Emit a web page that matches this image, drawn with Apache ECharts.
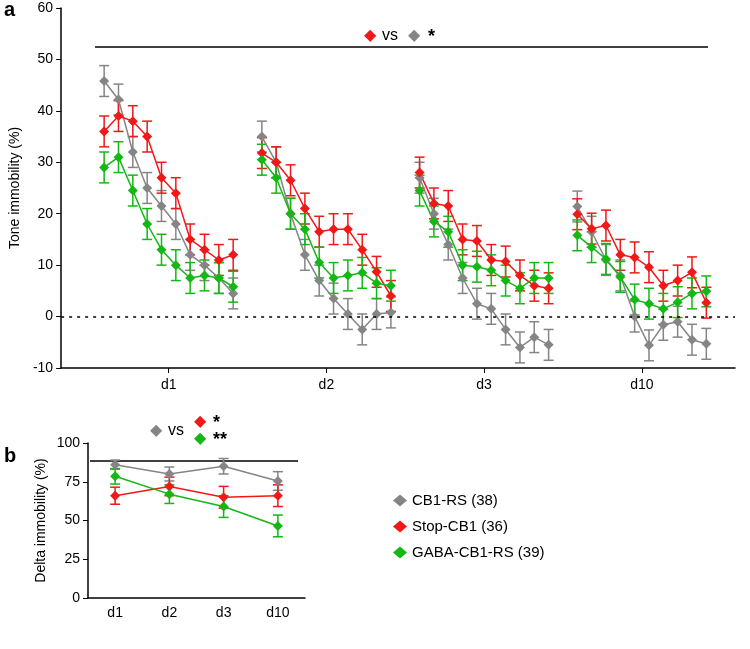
<!DOCTYPE html>
<html><head><meta charset="utf-8">
<script src="https://cdn.jsdelivr.net/npm/echarts@6/dist/echarts.min.js"></script>
<style>html,body{margin:0;padding:0;background:#fff}#chart{width:750px;height:649px}</style>
</head><body><div id="chart"></div>
<script>
// panel a: 4 days x 10 trials
const days = ['d1', 'd2', 'd3', 'd10'];
const grayA = [45.8, 42.2, 32, 25, 21.5, 18, 12, 10, 7.5, 4.5,
  35, 30, 20, 12, 7, 3.5, 0.5, -2.5, 0.5, 0.8,
  27, 20, 14, 7.5, 2.5, 1.5, -2.5, -6, -4, -5.5,
  21.4, 16.5, 11, 8, 0, -5.6, -1.6, -1, -4.5, -5.3];
const redA = [36, 39, 38, 35, 27, 24, 15, 13, 11, 12,
  31.8, 30, 26.5, 21, 16.5, 17, 17, 13, 8.7, 4,
  28, 22, 21.5, 15, 14.7, 11, 10.7, 8, 6, 5.5,
  19.9, 17.1, 17.7, 12, 11.5, 9.6, 6, 7, 8.6, 2.7];
const greenA = [29, 31, 24.5, 18, 13, 10, 7.5, 8, 7.5, 5.8,
  30.5, 27, 20, 17, 10.5, 7.5, 8, 8.5, 6.5, 6,
  24.5, 18.5, 16.5, 10, 9.7, 9, 7, 5.5, 7.5, 7.5,
  15.8, 13.5, 11.2, 7.7, 3.3, 2.5, 1.5, 2.8, 4.5, 4.9];
const semA = 3;
// panel b
const grayB = [86, 80, 85, 75.5];
const redB = [66, 72, 65, 66];
const greenB = [78.5, 67, 59, 46.5];
const grayBErr = [3, 4.5, 5, 6];
const redBErr = [5.5, 6, 7, 7];
const greenBErr = [5, 6, 7, 7];

const GRAY = '#858585', RED = '#f01818', GREEN = '#14b814';

function xOf(k) { return Math.floor(k / 10) * 11 + (k % 10); }

function lineSeries(vals, color, xi, yi, xs) {
  const data = [];
  vals.forEach((v, k) => {
    if (xs === null) { data.push([xOf(k), v]); if (k % 10 === 9 && k < vals.length - 1) data.push([xOf(k) + 1, null]); }
    else data.push([k, v]);
  });
  return { type: 'line', xAxisIndex: xi, yAxisIndex: yi, data: data, connectNulls: false,
    symbol: 'diamond', symbolSize: 10, itemStyle: { color: color },
    lineStyle: { color: color, width: 1.5 }, z: 3, animation: false };
}
function errSeries(vals, errs, color, xi, yi, useX) {
  const data = vals.map((v, k) => [useX ? xOf(k) : k, v, Array.isArray(errs) ? errs[k] : errs]);
  return { type: 'custom', xAxisIndex: xi, yAxisIndex: yi, data: data, z: 2, animation: false,
    renderItem: function (p, api) {
      const x = api.value(0), y = api.value(1), e = api.value(2);
      const a = api.coord([x, y + e]), b = api.coord([x, y - e]);
      const w = 5;
      const st = { stroke: color, lineWidth: 1.5 };
      return { type: 'group', children: [
        { type: 'line', shape: { x1: a[0], y1: a[1], x2: b[0], y2: b[1] }, style: st },
        { type: 'line', shape: { x1: a[0] - w, y1: a[1], x2: a[0] + w, y2: a[1] }, style: st },
        { type: 'line', shape: { x1: b[0] - w, y1: b[1], x2: b[0] + w, y2: b[1] }, style: st }
      ] };
    } };
}

const axisStyle = { onZero: false, lineStyle: { color: '#000', width: 1.5 } };
const chart = echarts.init(document.getElementById('chart'));
chart.setOption({
  animation: false,
  textStyle: { fontFamily: 'Arial, Liberation Sans, sans-serif' },
  grid: [
    { left: 55, top: 8, width: 680, height: 360 },
    { left: 88, top: 443, width: 217, height: 155 }
  ],
  xAxis: [
    { gridIndex: 0, type: 'value', min: -3, max: 44, axisLine: axisStyle,
      axisTick: { show: true, customValues: [4.5, 15.5, 26.5, 37.5], length: 5, lineStyle: { color: '#000' } },
      axisLabel: { customValues: [4.5, 15.5, 26.5, 37.5], color: '#000', fontSize: 14, margin: 10,
        formatter: v => days[Math.round((v - 4.5) / 11)] }, splitLine: { show: false } },
    { gridIndex: 1, type: 'category', data: days, boundaryGap: true, axisLine: axisStyle,
      axisTick: { alignWithLabel: true, lineStyle: { color: '#000' } },
      axisLabel: { color: '#000', fontSize: 14 } }
  ],
  yAxis: [
    { gridIndex: 0, type: 'value', min: -10, max: 60, interval: 10, axisLine: { show: true, onZero: false, lineStyle: { color: '#000', width: 1.5 } },
      axisTick: { show: true, lineStyle: { color: '#000' } }, splitLine: { show: false },
      axisLabel: { color: '#000', fontSize: 14 }, name: 'Tone immobility (%)', nameLocation: 'middle', nameGap: 36,
      nameTextStyle: { color: '#000', fontSize: 14 } },
    { gridIndex: 1, type: 'value', min: 0, max: 100, interval: 25, axisLine: { show: true, onZero: false, lineStyle: { color: '#000', width: 1.5 } },
      axisTick: { show: true, lineStyle: { color: '#000' } }, splitLine: { show: false },
      axisLabel: { color: '#000', fontSize: 14 }, name: 'Delta immobility (%)', nameLocation: 'middle', nameGap: 40,
      nameTextStyle: { color: '#000', fontSize: 14 } }
  ],
  series: [
    errSeries(grayA, semA, GRAY, 0, 0, true),
    errSeries(redA, semA, RED, 0, 0, true),
    errSeries(greenA, semA, GREEN, 0, 0, true),
    Object.assign(lineSeries(grayA, GRAY, 0, 0, null), {
      markLine: { silent: true, symbol: 'none', label: { show: false },
        lineStyle: { color: '#000', type: [3, 5], width: 1.5 }, data: [{ yAxis: 0 }] } }),
    lineSeries(redA, RED, 0, 0, null),
    lineSeries(greenA, GREEN, 0, 0, null),
    errSeries(grayB, grayBErr, GRAY, 1, 1, false),
    errSeries(redB, redBErr, RED, 1, 1, false),
    errSeries(greenB, greenBErr, GREEN, 1, 1, false),
    Object.assign(lineSeries(grayB, GRAY, 1, 1, 1), { name: 'CB1-RS (38)' }),
    Object.assign(lineSeries(redB, RED, 1, 1, 1), { name: 'Stop-CB1 (36)' }),
    Object.assign(lineSeries(greenB, GREEN, 1, 1, 1), { name: 'GABA-CB1-RS (39)' })
  ],
  legend: { orient: 'vertical', left: 388, top: 488, itemGap: 11, itemWidth: 14, itemHeight: 12,
    icon: 'diamond', textStyle: { color: '#000', fontSize: 15 },
    data: ['CB1-RS (38)', 'Stop-CB1 (36)', 'GABA-CB1-RS (39)'] },
  graphic: [
    { type: 'text', left: 4, top: 0, style: { text: 'a', font: 'bold 20px Arial', fill: '#000' } },
    { type: 'text', left: 4, top: 446, style: { text: 'b', font: 'bold 20px Arial', fill: '#000' } },
    { type: 'line', shape: { x1: 95, y1: 47, x2: 708, y2: 47 }, style: { stroke: '#000', lineWidth: 1.5 } },
    { type: 'text', x: 364, y: 28, style: { text: '◆', font: '16px DejaVu Sans', fill: RED } },
    { type: 'text', x: 382, y: 28, style: { text: 'vs', font: '16px Arial', fill: '#000' } },
    { type: 'text', x: 408, y: 28, style: { text: '◆', font: '16px DejaVu Sans', fill: GRAY } },
    { type: 'text', x: 428, y: 28, style: { text: '*', font: 'bold 18px Arial', fill: '#000' } },
    { type: 'line', shape: { x1: 90, y1: 461, x2: 298, y2: 461 }, style: { stroke: '#000', lineWidth: 1.5 } },
    { type: 'text', x: 150, y: 423, style: { text: '◆', font: '16px DejaVu Sans', fill: GRAY } },
    { type: 'text', x: 168, y: 423, style: { text: 'vs', font: '16px Arial', fill: '#000' } },
    { type: 'text', x: 194, y: 414, style: { text: '◆', font: '16px DejaVu Sans', fill: RED } },
    { type: 'text', x: 213, y: 414, style: { text: '*', font: 'bold 18px Arial', fill: '#000' } },
    { type: 'text', x: 194, y: 431, style: { text: '◆', font: '16px DejaVu Sans', fill: GREEN } },
    { type: 'text', x: 213, y: 431, style: { text: '**', font: 'bold 18px Arial', fill: '#000' } }
  ]
});
</script></body></html>
